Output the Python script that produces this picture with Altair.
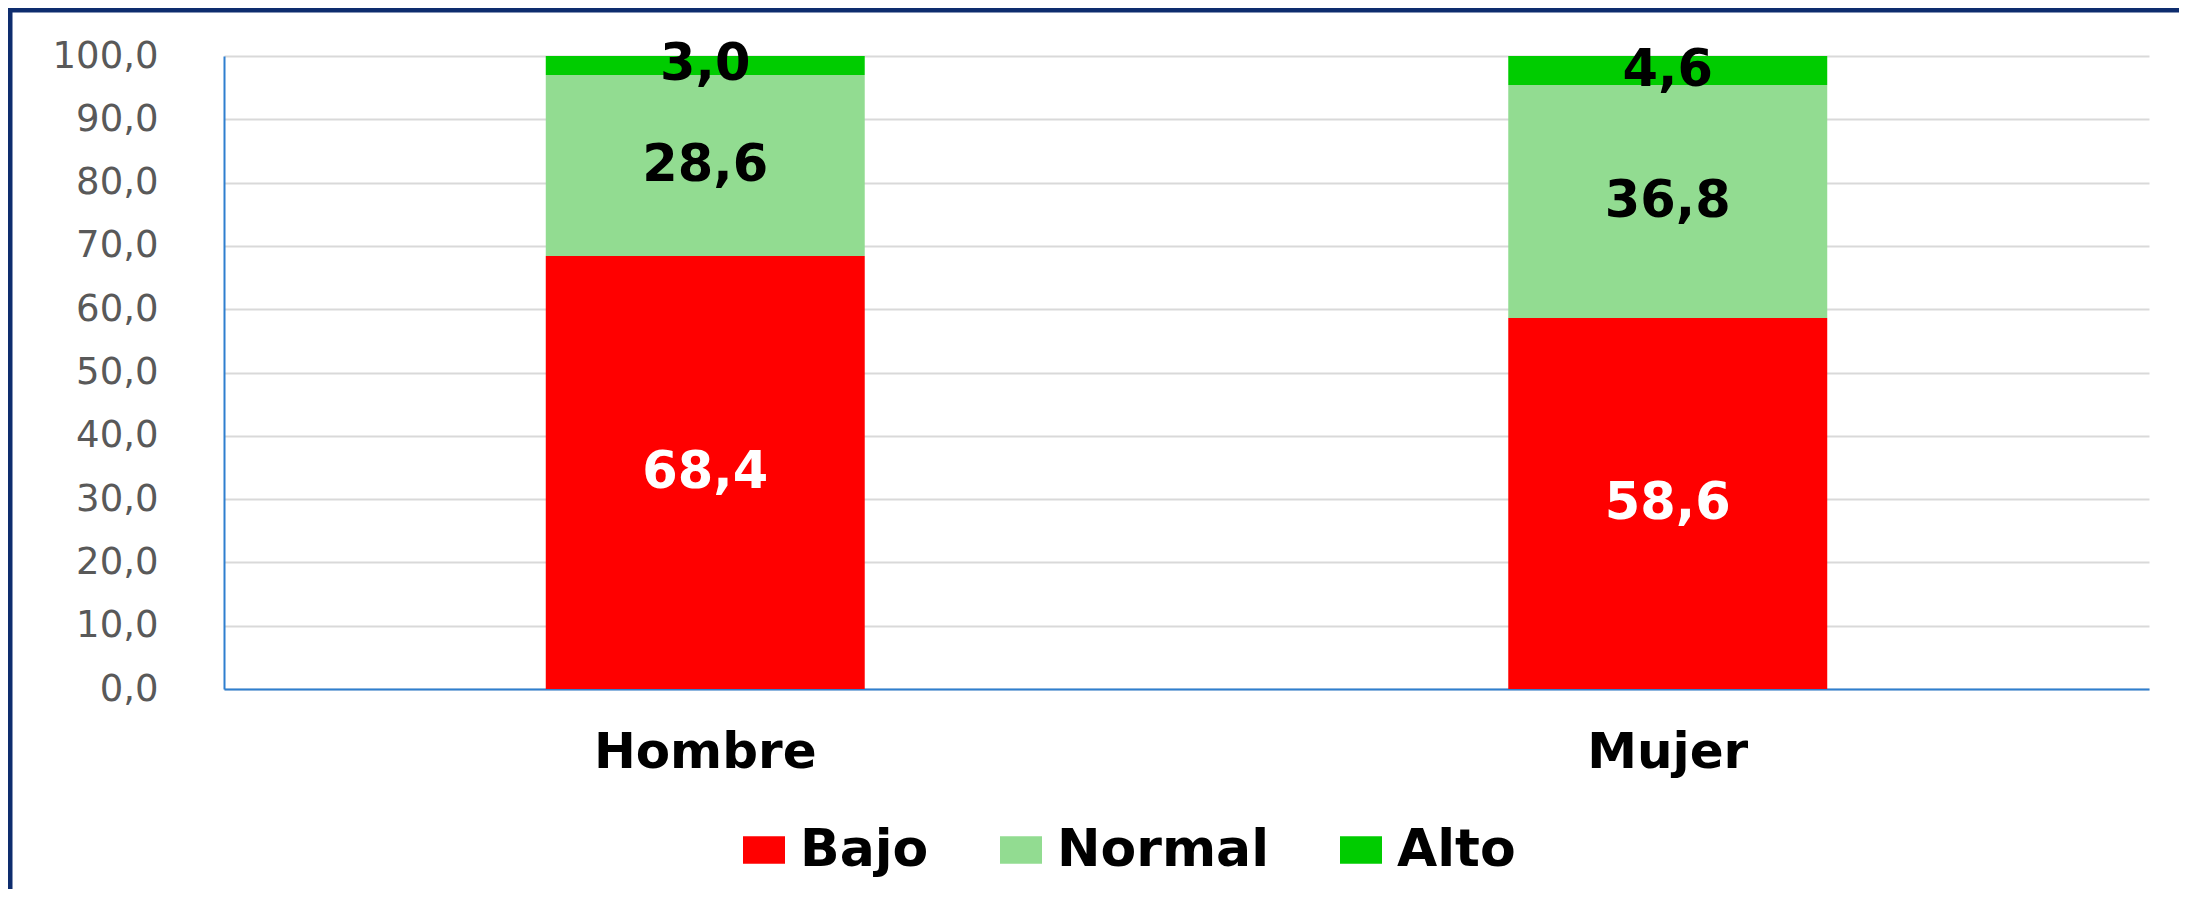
import altair as alt
import pandas as pd

# ---- data ----
sexos = ["Hombre", "Mujer"]
niveles = ["Bajo", "Normal", "Alto"]
bajo = [68.4, 58.6]
normal = [28.6, 36.8]
alto = [3.0, 4.6]
colores = ["#FF0000", "#92DC91", "#00CC00"]
y_ticks = [0, 10, 20, 30, 40, 50, 60, 70, 80, 90, 100]

rows = []
for i, s in enumerate(sexos):
    for j, (n, vals) in enumerate(zip(niveles, [bajo, normal, alto])):
        rows.append({"sexo": s, "nivel": n, "orden": j, "valor": vals[i]})
df = pd.DataFrame(rows)

FONT = "DejaVu Sans"
NAVY = "#0E2D6E"
BLUE = "#2F7FCF"

x_enc = alt.X(
    "sexo:N", sort=sexos, title=None,
    scale=alt.Scale(paddingInner=0.6686, paddingOuter=0.3343),
    axis=alt.Axis(labelAngle=0, labelFont=FONT, labelFontSize=50, labelFontWeight="bold",
                  labelColor="#000000", labelPadding=38, labelLimit=600, ticks=False,
                  domainColor=BLUE, domainWidth=2, grid=False),
)
y_scale = alt.Scale(domain=[0, 100], nice=False)

bars = alt.Chart(df).mark_bar().encode(
    x=x_enc,
    y=alt.Y("valor:Q", stack="zero", title=None, scale=y_scale,
            axis=alt.Axis(values=y_ticks, format=".1f",
                          labelExpr="replace(datum.label, '.', ',')",
                          labelFont=FONT, labelFontSize=37, labelColor="#595959",
                          labelPadding=66, ticks=False, domainColor=BLUE, domainWidth=2,
                          gridColor="#D9D9D9", gridWidth=2)),
    color=alt.Color("nivel:N", scale=alt.Scale(domain=niveles, range=colores),
                    legend=alt.Legend(
                        title=None, orient="none", legendX=514, legendY=768,
                        direction="horizontal",
                        symbolType="M-1,-0.66H1V0.66H-1Z", symbolSize=1764,
                        symbolStrokeWidth=0,
                        labelFont=FONT, labelFontSize=52, labelFontWeight="bold",
                        labelColor="#000000", labelOffset=10, labelLimit=600,
                        columnPadding=66, padding=0)),
    order=alt.Order("orden:Q"),
)

labels = alt.Chart(df).transform_stack(
    stack="valor", as_=["y0", "y1"], groupby=["sexo"], sort=[alt.SortField("orden")]
).transform_calculate(
    mid="(datum.y0 + datum.y1) / 2",
    etiqueta="replace(format(datum.valor, '.1f'), '.', ',')",
).mark_text(font=FONT, fontSize=51, fontWeight="bold", baseline="middle", align="center").encode(
    x=alt.X("sexo:N", sort=sexos),
    y=alt.Y("mid:Q", scale=y_scale),
    text="etiqueta:N",
    color=alt.condition("datum.nivel == 'Bajo'", alt.value("#FFFFFF"), alt.value("#000000")),
)

one = pd.DataFrame({"a": [0]})
left_border = alt.Chart(one).mark_rule(color=NAVY, strokeWidth=5).encode(
    x=alt.value(-214), y=alt.value(-48), y2=alt.value(900))
top_border = alt.Chart(one).mark_rule(color=NAVY, strokeWidth=5).encode(
    x=alt.value(-216), x2=alt.value(1975), y=alt.value(-46))

chart = alt.layer(bars, labels, left_border, top_border).properties(
    width=1925, height=633,
    autosize=alt.AutoSizeParams(type="none"),
    padding={"left": 216, "top": 48, "right": 30, "bottom": 200},
    background="white",
).configure_view(stroke=None)

chart.save("out.html", embed_options={"renderer": "svg", "actions": False})
